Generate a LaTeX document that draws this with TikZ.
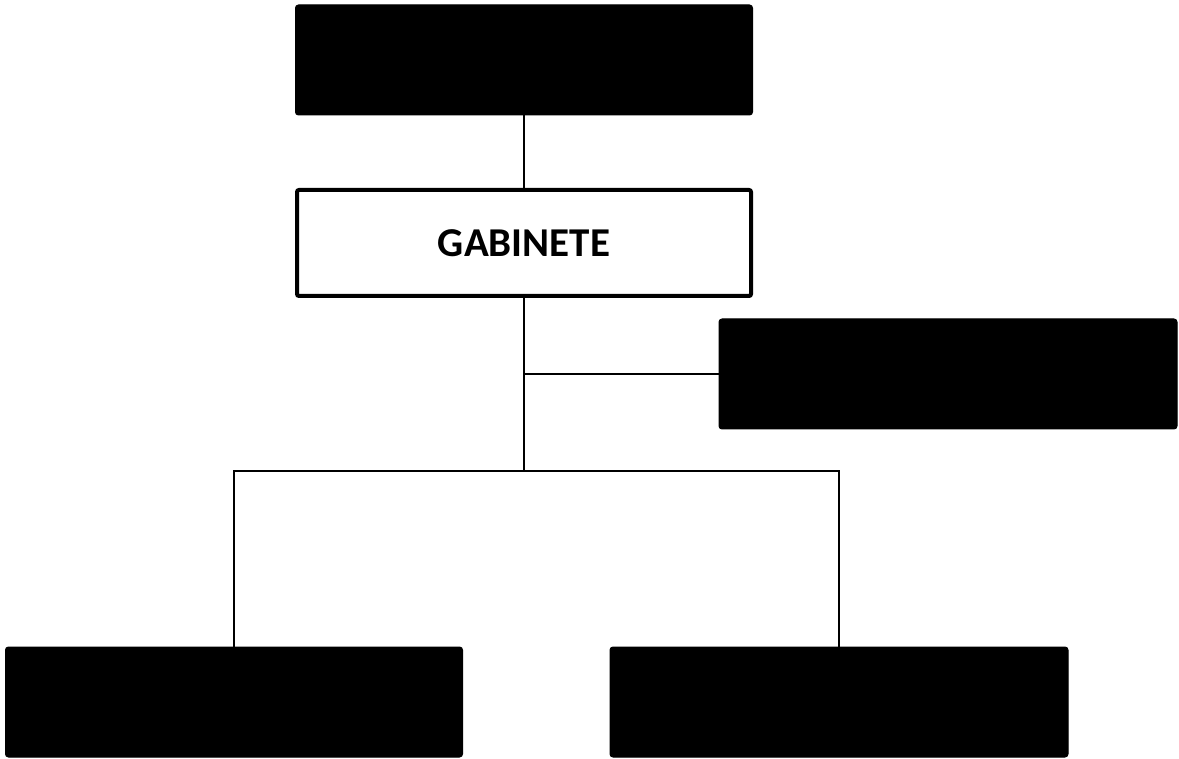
\documentclass[tikz,border=0pt]{standalone}
\usepackage{fontspec}
\setmainfont{Carlito}
\begin{document}
\begin{tikzpicture}[x=1pt,y=-1pt,
  blackbox/.style={draw=black,fill=black,rounded corners=3pt,line width=1pt,inner sep=0pt},
  whitebox/.style={draw=black,fill=white,rounded corners=2pt,line width=4pt,inner sep=0pt},
  link/.style={draw=black,line width=2.5pt}]
\useasboundingbox (0,0) rectangle (1179,759);
\node[blackbox,minimum width=457pt,minimum height=110pt] (top) at (524,60) {};
\node[whitebox,minimum width=454pt,minimum height=106pt] (gab) at (524,243)
  {\fontsize{41}{49}\selectfont\bfseries GABINETE};
\node[blackbox,minimum width=458pt,minimum height=110pt] (right) at (948,374) {};
\node[blackbox,minimum width=457pt,minimum height=110pt] (bl) at (234,702) {};
\node[blackbox,minimum width=458pt,minimum height=110pt] (br) at (839,702) {};
\coordinate (j) at (524,471);
\coordinate (jr) at (524,374);
\draw[link] (top.south) -- (gab.north);
\draw[link] (gab.south) -- (j);
\draw[link] (jr) -- (right.west);
\draw[link] (j) -| (bl.north);
\draw[link] (j) -| (br.north);
\end{tikzpicture}
\end{document}
